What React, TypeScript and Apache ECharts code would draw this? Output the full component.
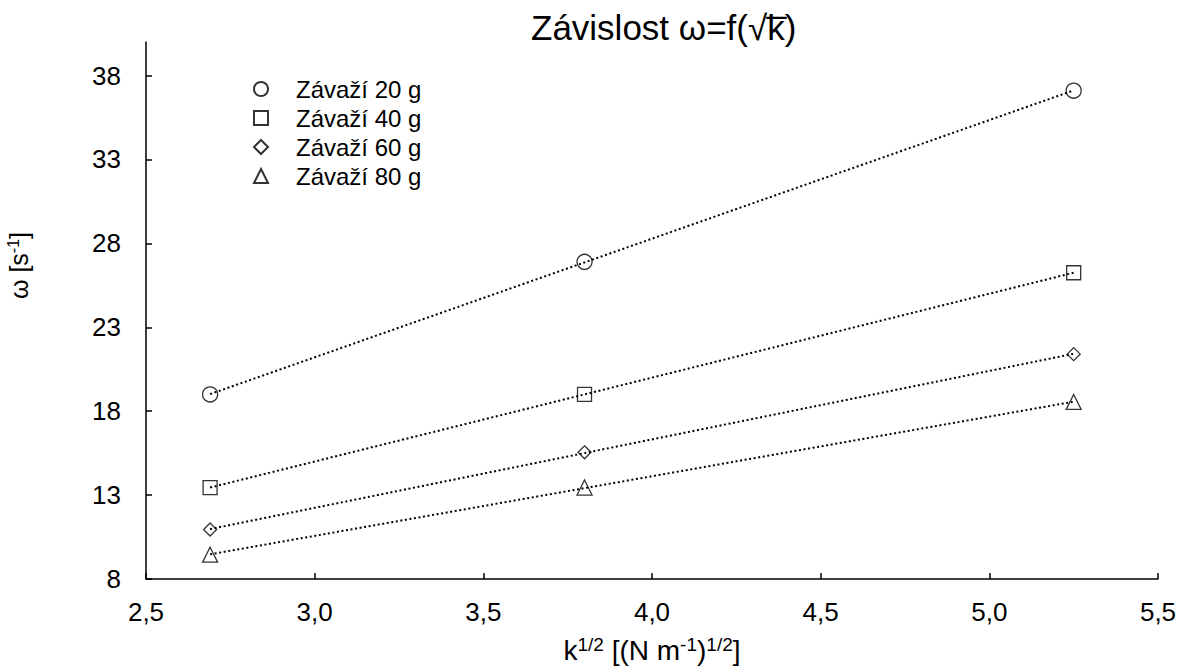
import React, { useEffect, useRef } from "react";
import * as echarts from "echarts";

// x values: sqrt(k) [(N m^-1)^1/2]
const sqrtK = [2.69, 3.8, 5.25];
// omega values [s^-1]
const omega20 = [19.0, 26.9, 37.1];
const omega40 = [13.45, 19.0, 26.25];
const omega60 = [10.95, 15.55, 21.4];
const omega80 = [9.45, 13.45, 18.55];

const seriesNames = ["Závaží 20 g", "Závaží 40 g", "Závaží 60 g", "Závaží 80 g"];
const symbols = ["circle", "rect", "diamond", "triangle"];
const symbolSizes = [15, 14, 13, 15];
const xTicks = { min: 2.5, max: 5.5, interval: 0.5 };
const yRange = { min: 8, max: 40 };
const yTickValues = [8, 13, 18, 23, 28, 33, 38];

const FONT = "Liberation Sans, Arial, sans-serif";

function fit(xs: number[], ys: number[]) {
  const n = xs.length;
  const mx = xs.reduce((a, b) => a + b, 0) / n;
  const my = ys.reduce((a, b) => a + b, 0) / n;
  let sxy = 0;
  let sxx = 0;
  for (let i = 0; i < n; i++) {
    sxy += (xs[i] - mx) * (ys[i] - my);
    sxx += (xs[i] - mx) * (xs[i] - mx);
  }
  const b = sxy / sxx;
  const a = my - b * mx;
  const x0 = Math.min(...xs);
  const x1 = Math.max(...xs);
  return [
    [x0, a + b * x0],
    [x1, a + b * x1],
  ];
}

export default function App() {
  const ref = useRef<HTMLDivElement>(null);
  useEffect(() => {
    if (!ref.current) return;
    const chart = echarts.init(ref.current, null, { renderer: "svg" });
    const all = [omega20, omega40, omega60, omega80];
    const series: any[] = [];
    all.forEach((ys, i) => {
      series.push({
        type: "line",
        name: "trend" + i,
        data: fit(sqrtK, ys),
        showSymbol: false,
        symbol: "none",
        silent: true,
        lineStyle: { color: "#000", width: 2, type: [2, 2.6] },
        z: 1,
      });
    });
    all.forEach((ys, i) => {
      series.push({
        type: "scatter",
        name: seriesNames[i],
        data: sqrtK.map((x, j) => [x, ys[j]]),
        symbol: symbols[i],
        symbolSize: symbolSizes[i],
        itemStyle: { color: "rgba(255,255,255,0)", borderColor: "#000", borderWidth: 1.3 },
        z: 2,
      });
    });
    const sup = { fontSize: 19, fontFamily: FONT, color: "#000", padding: [0, 0, 11, 0] };
    chart.setOption({
      animation: false,
      backgroundColor: "#fff",
      title: {
        text: "Závislost ω=f(√k\u0305)",
        left: 526,
        top: 5,
        textStyle: { fontSize: 35, fontWeight: "normal", fontFamily: FONT, color: "#000" },
      },
      legend: {
        data: seriesNames,
        orient: "vertical",
        left: 248,
        top: 72,
        itemWidth: 14,
        itemHeight: 14,
        itemGap: 5,
        textStyle: { fontSize: 24, fontFamily: FONT, color: "#000", padding: [0, 0, 0, 23] },
      },
      grid: {
        left: 146,
        right: 23,
        top: 42,
        bottom: 92,
        containLabel: false,
        outerBoundsMode: "none",
      },
      xAxis: {
        type: "value",
        min: xTicks.min,
        max: xTicks.max,
        interval: xTicks.interval,
        name: "k{sup|1/2} [(N m{sup|-1}){sup|1/2}]",
        nameLocation: "middle",
        nameGap: 56,
        nameTextStyle: {
          fontSize: 28,
          fontFamily: FONT,
          color: "#000",
          rich: { sup },
        },
        axisLine: { lineStyle: { color: "#000", width: 1.5 } },
        axisTick: { inside: true, length: 6, lineStyle: { color: "#000", width: 1.5 } },
        splitLine: { show: false },
        axisLabel: {
          fontSize: 26,
          fontFamily: FONT,
          color: "#000",
          margin: 20,
          formatter: (v: number) => v.toFixed(1).replace(".", ","),
        },
      },
      yAxis: {
        type: "value",
        min: yRange.min,
        max: yRange.max,
        name: "ω [s{sup|-1}]",
        nameLocation: "middle",
        nameGap: 114,
        nameTextStyle: {
          fontSize: 25,
          fontFamily: FONT,
          color: "#000",
          padding: [0, 0, 0, 90],
          rich: { sup: { ...sup, fontSize: 16, padding: [0, 0, 11, 0] } },
        },
        axisLine: { show: true, lineStyle: { color: "#000", width: 1.5 } },
        axisTick: {
          show: true,
          inside: true,
          length: 6,
          customValues: yTickValues,
          lineStyle: { color: "#000", width: 1.5 },
        },
        splitLine: { show: false },
        axisLabel: {
          fontSize: 26,
          fontFamily: FONT,
          color: "#000",
          margin: 25,
          customValues: yTickValues,
        },
      },
      series,
    });
    return () => chart.dispose();
  }, []);
  return (
    <div
      ref={ref}
      style={{ position: "absolute", left: 0, top: 0, width: 1181, height: 671 }}
    />
  );
}
